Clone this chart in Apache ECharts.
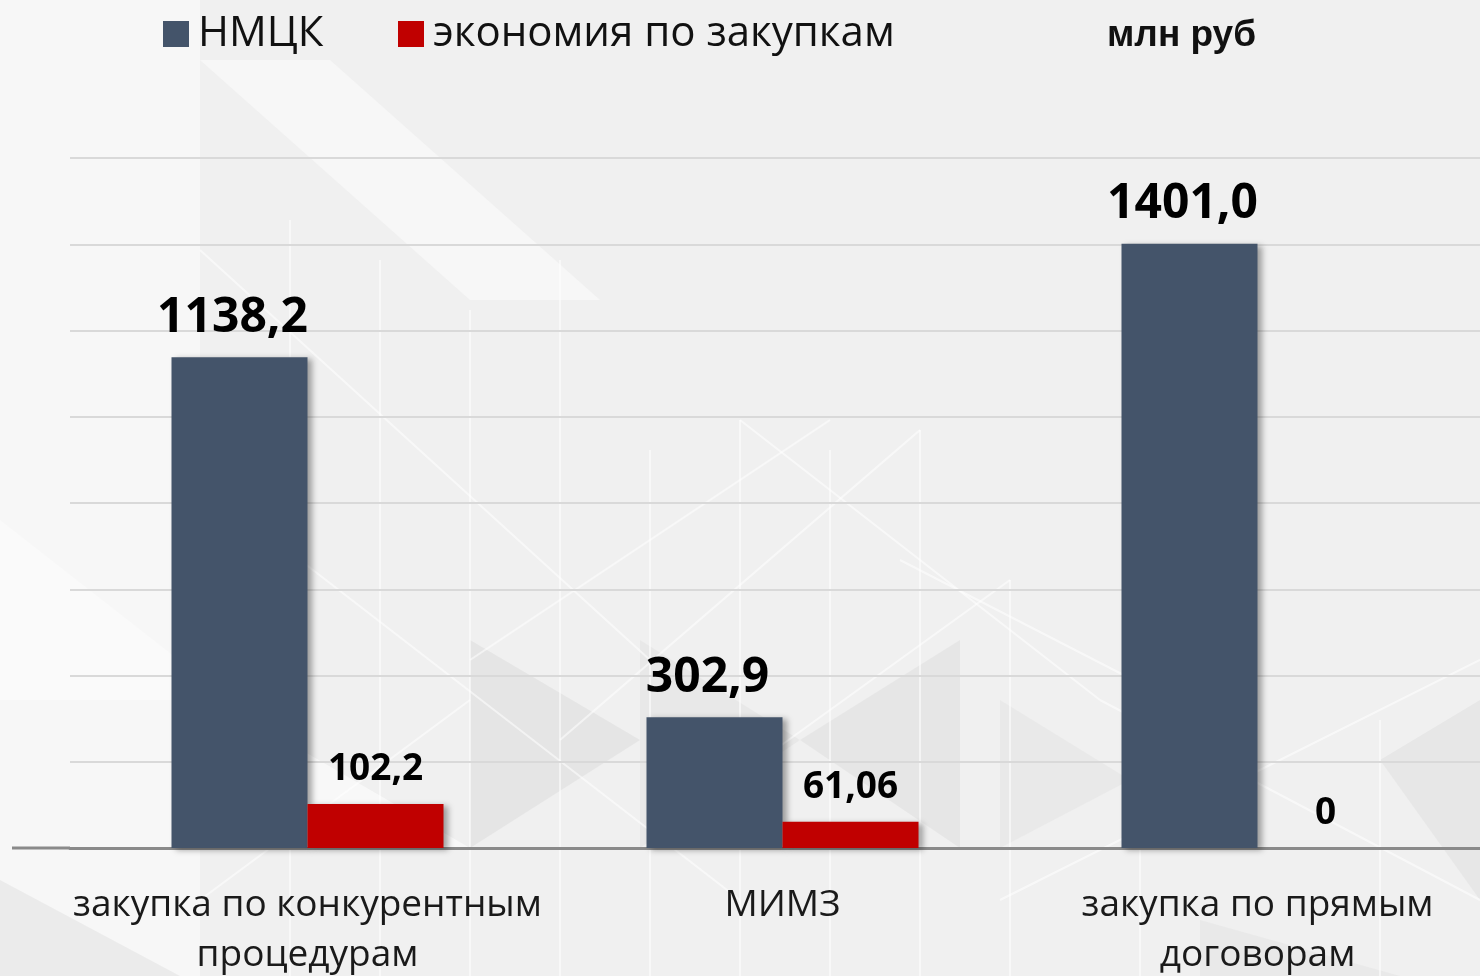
<!DOCTYPE html>
<html>
<head>
<meta charset="utf-8">
<script src="https://cdn.jsdelivr.net/npm/echarts@6/dist/echarts.min.js"></script>
<style>
html,body{margin:0;padding:0;background:#f1f1f1;}
#chart{width:1480px;height:976px;}
</style>
</head>
<body>
<div id="chart"></div>
<script>
var categories = ['закупка по конкурентным\nпроцедурам', 'МИМЗ', 'закупка по прямым\nдоговорам'];
var nmckValues = [1138.2, 302.9, 1401.0];
var savingsValues = [102.2, 61.06, 0];
var nmckLabels = ['1138,2', '302,9', '1401,0'];
var savingsLabels = ['102,2', '61,06', '0'];
var seriesNames = ['НМЦК', 'экономия по закупкам'];
var unitText = 'млн руб';

var FONT = '"Open Sans", "DejaVu Sans", sans-serif';
var chart = echarts.init(document.getElementById('chart'), null, {renderer: 'canvas'});

function poly(points, fill, op) {
  return {type: 'polygon', silent: true, z: -5, shape: {points: points}, style: {fill: fill, opacity: op}};
}
function wl(x1, y1, x2, y2) {
  return {type: 'line', silent: true, z: -4, shape: {x1: x1, y1: y1, x2: x2, y2: y2}, style: {stroke: '#ffffff', lineWidth: 2, opacity: 0.55}};
}

var deco = [
  poly([[0,0],[200,0],[200,976],[0,976]], '#ffffff', 0.45),
  poly([[200,60],[330,60],[600,300],[470,300]], '#ffffff', 0.45),
  poly([[0,520],[230,700],[0,700]], '#ffffff', 0.35),
  poly([[470,640],[640,740],[470,848]], '#d0d0d0', 0.35),
  poly([[640,640],[800,740],[640,848]], '#d6d6d6', 0.3),
  poly([[800,740],[960,640],[960,848]], '#d2d2d2', 0.3),
  poly([[1000,700],[1130,780],[1000,848]], '#dcdcdc', 0.3),
  poly([[250,720],[470,848],[250,848]], '#ffffff', 0.55),
  poly([[0,880],[180,976],[0,976]], '#dadada', 0.4),
  poly([[1380,760],[1480,700],[1480,900]], '#d6d6d6', 0.35),
  poly([[1200,920],[1400,976],[1200,976]], '#dcdcdc', 0.35),
  wl(290,220,290,976), wl(380,260,380,976), wl(470,310,470,976), wl(560,260,560,976),
  wl(650,450,650,976), wl(740,420,740,976), wl(830,450,830,976), wl(920,430,920,976),
  wl(1010,580,1010,976), wl(1140,640,1140,976), wl(1380,720,1380,976),
  wl(200,250,650,660), wl(470,660,830,420), wl(300,560,740,900), wl(560,740,920,430),
  wl(740,420,1100,700), wl(650,840,1010,580), wl(900,560,1250,740), wl(1000,900,1480,660),
  wl(1100,700,1480,900), wl(200,900,470,700)
];
deco.push({type: 'line', silent: true, z: 5, shape: {x1: 12, y1: 848, x2: 70, y2: 848}, style: {stroke: '#8a8a8a', lineWidth: 3}});

var option = {
  backgroundColor: '#f0f0f0',
  animation: false,
  graphic: deco,
  title: {
    text: unitText,
    left: 1102,
    top: 12,
    textStyle: {fontFamily: '"Liberation Sans", Arial, sans-serif', fontWeight: 'bold', fontSize: 37, color: '#111111'}
  },
  legend: [
    {
      data: [seriesNames[0]],
      left: 158, top: 8,
      itemWidth: 26, itemHeight: 26, itemGap: 0,
      icon: 'rect',
      textStyle: {fontFamily: FONT, fontSize: 42, color: '#111111', padding: [0,0,0,4]}
    },
    {
      data: [seriesNames[1]],
      left: 393, top: 8,
      itemWidth: 26, itemHeight: 26, itemGap: 0,
      icon: 'rect',
      textStyle: {fontFamily: FONT, fontSize: 42, color: '#111111', padding: [0,0,0,4]}
    }
  ],
  grid: {left: 70, top: 158, width: 1425, height: 690, containLabel: false, outerBoundsMode: 'none'},
  xAxis: {
    type: 'category',
    data: categories,
    axisLine: {show: true, lineStyle: {color: '#8a8a8a', width: 3}},
    axisTick: {show: false},
    axisLabel: {fontFamily: FONT, fontSize: 37, color: '#1a1a1a', lineHeight: 50, margin: 32, interval: 0}
  },
  yAxis: {
    type: 'value',
    min: 0, max: 1600, interval: 200,
    axisLabel: {show: false},
    axisLine: {show: false},
    axisTick: {show: false},
    splitLine: {show: true, lineStyle: {color: '#d9d9d9', width: 2}}
  },
  series: [
    {
      name: seriesNames[0],
      type: 'bar',
      data: nmckValues,
      barWidth: 136,
      barGap: '0%',
      itemStyle: {color: '#44546A', shadowColor: 'rgba(0,0,0,0.35)', shadowBlur: 6, shadowOffsetX: 4, shadowOffsetY: 2},
      label: {
        show: true, position: 'top', distance: 15, offset: [-7, 0],
        fontFamily: FONT, fontWeight: 'bold', fontSize: 48, color: '#000000',
        formatter: function (p) { return nmckLabels[p.dataIndex]; }
      }
    },
    {
      name: seriesNames[1],
      type: 'bar',
      data: savingsValues,
      barWidth: 136,
      barGap: '0%',
      itemStyle: {color: '#C00000', shadowColor: 'rgba(0,0,0,0.35)', shadowBlur: 6, shadowOffsetX: 4, shadowOffsetY: 2},
      label: {
        show: true, position: 'top', distance: 16,
        fontFamily: FONT, fontWeight: 'bold', fontSize: 37, color: '#000000',
        formatter: function (p) { return savingsLabels[p.dataIndex]; }
      }
    }
  ]
};
chart.setOption(option);
</script>
</body>
</html>
